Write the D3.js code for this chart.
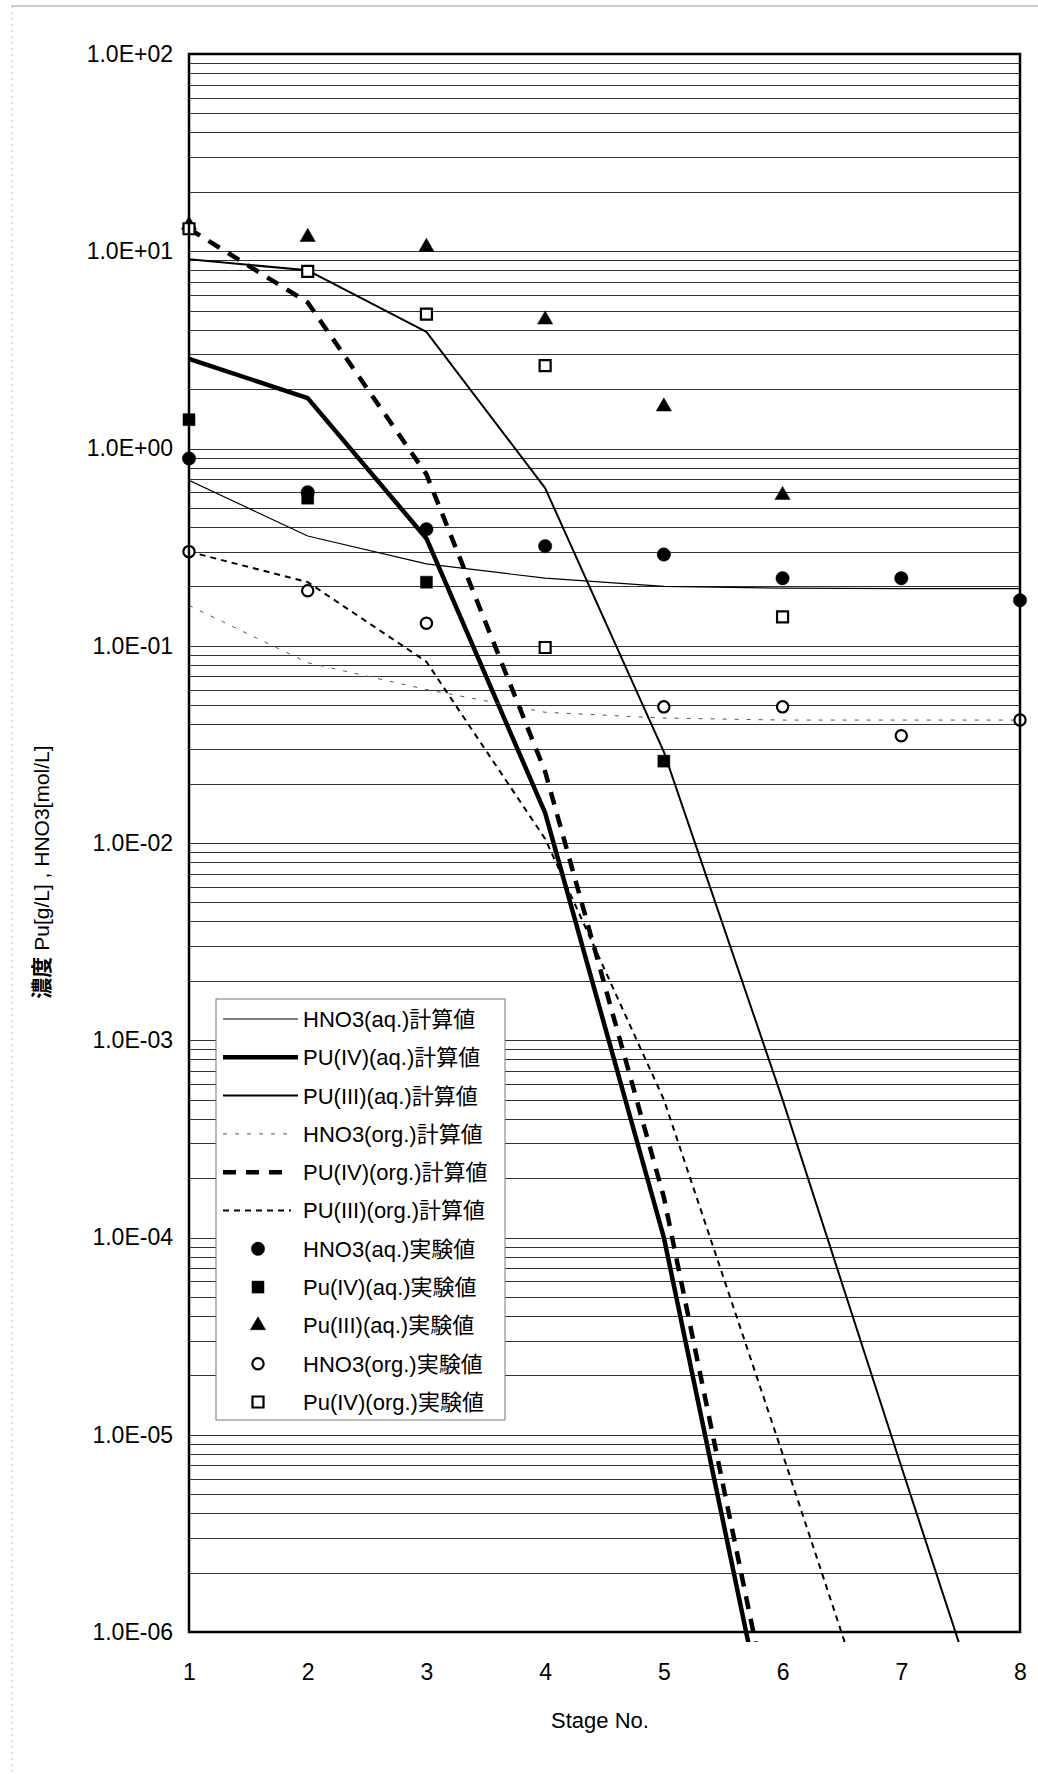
<!DOCTYPE html>
<html>
<head>
<meta charset="utf-8">
<script src="https://cdnjs.cloudflare.com/ajax/libs/d3/7.8.5/d3.min.js"></script>
<style>
  body { margin: 0; background: #fff; }
  svg { display: block; font-family: "Liberation Sans", "Noto Sans CJK JP", sans-serif; }
</style>
</head>
<body>
<div id="chart"></div>
<script>
var stages = [1, 2, 3, 4, 5, 6, 7, 8];
var yTickValues = [1e-6, 1e-5, 1e-4, 1e-3, 1e-2, 1e-1, 1, 10, 100];

// calculated values, one per stage (missing stages fall below the axis)
var hno3AqCalc   = [0.69, 0.36, 0.26, 0.22, 0.20, 0.196, 0.195, 0.195];
var puIVAqCalc   = [2.85, 1.80, 0.35, 0.0142, 1.0e-4, 1.3e-7];
var puIIIAqCalc  = [9.1, 8.0, 3.9, 0.63, 0.029, 5.0e-4, 6.9e-6, 1.0e-7];
var hno3OrgCalc  = [0.16, 0.082, 0.060, 0.046, 0.043, 0.042, 0.042, 0.042];
var puIVOrgCalc  = [13, 5.5, 0.74, 0.023, 1.6e-4, 1.9e-7];
var puIIIOrgCalc = [0.30, 0.21, 0.083, 0.0105, 5.0e-4, 8.0e-6, 1.2e-7];

// experimental values
var hno3AqExpStage  = [1, 2, 3, 4, 5, 6, 7, 8];
var hno3AqExp       = [0.89, 0.60, 0.39, 0.32, 0.29, 0.22, 0.22, 0.17];
var puIVAqExpStage  = [1, 2, 3, 5];
var puIVAqExp       = [1.4, 0.56, 0.21, 0.026];
var puIIIAqExpStage = [1, 2, 3, 4, 5, 6];
var puIIIAqExp      = [13.6, 11.8, 10.5, 4.5, 1.63, 0.58];
var hno3OrgExpStage = [1, 2, 3, 5, 6, 7, 8];
var hno3OrgExp      = [0.30, 0.19, 0.13, 0.049, 0.049, 0.035, 0.042];
var puIVOrgExpStage = [1, 2, 3, 4, 4, 6];
var puIVOrgExp      = [13, 7.9, 4.8, 2.63, 0.098, 0.14];

(function() {
  var W = 1038, H = 1774;
  var plotLeft = 189, plotRight = 1020, plotTop = 54, plotBottom = 1632;

  var svg = d3.select('#chart').append('svg')
    .attr('width', W)
    .attr('height', H);

  svg.append('rect').attr('width', W).attr('height', H).attr('fill', '#fff');

  // faint page edges from the scan
  svg.append('line').attr('x1', 12).attr('x2', W).attr('y1', 6).attr('y2', 6)
    .attr('stroke', '#999').attr('stroke-width', 1);
  svg.append('line').attr('x1', 12).attr('x2', 12).attr('y1', 6).attr('y2', H)
    .attr('stroke', '#bbb').attr('stroke-width', 1).attr('stroke-dasharray', '2,4');

  var x = d3.scaleLinear().domain([1, 8]).range([plotLeft, plotRight]);
  var y = d3.scaleLog().domain([1e-6, 100]).range([plotBottom, plotTop]);

  function fmtExp(d) {
    var e = Math.round(Math.log10(d));
    var a = Math.abs(e);
    return '1.0E' + (e < 0 ? '-' : '+') + (a < 10 ? '0' : '') + a;
  }

  // horizontal gridlines on every 1..9 x 10^n
  svg.append('g').selectAll('line.grid')
    .data(y.ticks())
    .enter().append('line')
    .attr('class', 'grid')
    .attr('x1', plotLeft).attr('x2', plotRight)
    .attr('y1', function(d) { return Math.round(y(d)) + 0.5; })
    .attr('y2', function(d) { return Math.round(y(d)) + 0.5; })
    .attr('stroke', '#333')
    .attr('stroke-width', 1);

  // axes
  var yAxis = svg.append('g')
    .attr('transform', 'translate(' + plotLeft + ',0)')
    .call(d3.axisLeft(y).tickValues(yTickValues).tickFormat(fmtExp).tickSize(0).tickPadding(16));
  var xAxis = svg.append('g')
    .attr('transform', 'translate(0,' + plotBottom + ')')
    .call(d3.axisBottom(x).tickValues(stages).tickFormat(d3.format('d')).tickSize(0).tickPadding(32));

  [yAxis, xAxis].forEach(function(a) {
    a.select('.domain').remove();
    a.selectAll('text')
      .attr('fill', '#000')
      .style('font-size', '23px')
      .style('font-family', '"Liberation Sans", sans-serif');
  });

  svg.append('text')
    .attr('x', 600).attr('y', 1728)
    .attr('text-anchor', 'middle')
    .style('font-size', '22px')
    .text('Stage No.');

  var yTitle = svg.append('text')
    .attr('transform', 'translate(42,872) rotate(-90)')
    .attr('text-anchor', 'middle')
    .attr('dy', '0.35em')
    .style('font-size', '21px');
  yTitle.append('tspan').style('font-weight', 'bold').text('濃度');
  yTitle.append('tspan').text(' Pu[g/L] , HNO3[mol/L]');

  // calculated lines
  var calcSeries = [
    { name: 'HNO3(aq.)計算値',    values: hno3AqCalc,   width: 1.2, dash: null,    color: '#000' },
    { name: 'PU(IV)(aq.)計算値',  values: puIVAqCalc,   width: 4.5, dash: null,    color: '#000' },
    { name: 'PU(III)(aq.)計算値', values: puIIIAqCalc,  width: 2,   dash: null,    color: '#000' },
    { name: 'HNO3(org.)計算値',   values: hno3OrgCalc,  width: 1,   dash: '4,8',   color: '#555' },
    { name: 'PU(IV)(org.)計算値', values: puIVOrgCalc,  width: 4.5, dash: '13,10', color: '#000' },
    { name: 'PU(III)(org.)計算値', values: puIIIOrgCalc, width: 2,  dash: '6,5',   color: '#000' }
  ];

  svg.append('clipPath').attr('id', 'plotClip')
    .append('rect')
    .attr('x', plotLeft).attr('y', plotTop)
    .attr('width', plotRight - plotLeft).attr('height', plotBottom - plotTop + 10);

  var line = d3.line()
    .x(function(d, i) { return x(stages[i]); })
    .y(function(d) { return y(d); });

  svg.append('g').attr('clip-path', 'url(#plotClip)')
    .selectAll('path.calc')
    .data(calcSeries)
    .enter().append('path')
    .attr('class', 'calc')
    .attr('d', function(d) { return line(d.values); })
    .attr('fill', 'none')
    .attr('stroke', function(d) { return d.color; })
    .attr('stroke-width', function(d) { return d.width; })
    .attr('stroke-dasharray', function(d) { return d.dash; })
    .attr('stroke-linejoin', 'round');

  // experimental markers
  function zip(st, vals) {
    return vals.map(function(v, i) { return { stage: st[i], value: v }; });
  }

  var expSeries = [
    { name: 'HNO3(aq.)実験値',    points: zip(hno3AqExpStage, hno3AqExp),   shape: 'circle',   fill: '#000' },
    { name: 'Pu(IV)(aq.)実験値',  points: zip(puIVAqExpStage, puIVAqExp),   shape: 'square',   fill: '#000' },
    { name: 'Pu(III)(aq.)実験値', points: zip(puIIIAqExpStage, puIIIAqExp), shape: 'triangle', fill: '#000' },
    { name: 'HNO3(org.)実験値',   points: zip(hno3OrgExpStage, hno3OrgExp), shape: 'circle',   fill: '#fff' },
    { name: 'Pu(IV)(org.)実験値', points: zip(puIVOrgExpStage, puIVOrgExp), shape: 'square',   fill: '#fff' }
  ];

  function markerPath(s) {
    var open = s.fill === '#fff';
    if (s.shape === 'circle') return d3.symbol(d3.symbolCircle, open ? 100 : 140)();
    if (s.shape === 'square') return d3.symbol(d3.symbolSquare, open ? 121 : 144)();
    return d3.symbol(d3.symbolTriangle, 100)();
  }

  function drawMarker(g, s) {
    g.append('path')
      .attr('d', markerPath(s))
      .attr('fill', s.fill)
      .attr('stroke', '#000')
      .attr('stroke-width', s.fill === '#fff' ? 2.2 : 0.5);
  }

  expSeries.forEach(function(s) {
    var pts = svg.append('g').selectAll('g.pt')
      .data(s.points)
      .enter().append('g')
      .attr('class', 'pt')
      .attr('transform', function(d) { return 'translate(' + x(d.stage) + ',' + y(d.value) + ')'; });
    pts.each(function() { drawMarker(d3.select(this), s); });
  });

  // plot frame
  svg.append('rect')
    .attr('x', plotLeft).attr('y', plotTop)
    .attr('width', plotRight - plotLeft).attr('height', plotBottom - plotTop)
    .attr('fill', 'none')
    .attr('stroke', '#000')
    .attr('stroke-width', 2.5);

  // legend
  var legend = svg.append('g');
  legend.append('rect')
    .attr('x', 216).attr('y', 999)
    .attr('width', 289).attr('height', 421)
    .attr('fill', '#fff')
    .attr('stroke', '#777')
    .attr('stroke-width', 1);

  function rowY(i) { return 1019 + i * 38.3; }

  calcSeries.forEach(function(s, i) {
    legend.append('line')
      .attr('x1', 223).attr('x2', s.dash ? 291 : 298)
      .attr('y1', rowY(i)).attr('y2', rowY(i))
      .attr('stroke', s.color)
      .attr('stroke-width', s.width)
      .attr('stroke-dasharray', s.dash);
  });

  expSeries.forEach(function(s, i) {
    var g = legend.append('g')
      .attr('transform', 'translate(258,' + rowY(i + calcSeries.length) + ')');
    drawMarker(g, s);
  });

  legend.selectAll('text.lbl')
    .data(calcSeries.concat(expSeries))
    .enter().append('text')
    .attr('class', 'lbl')
    .attr('x', 303)
    .attr('y', function(d, i) { return rowY(i); })
    .attr('dy', '0.36em')
    .style('font-size', '22px')
    .text(function(d) { return d.name; });
})();
</script>
</body>
</html>
